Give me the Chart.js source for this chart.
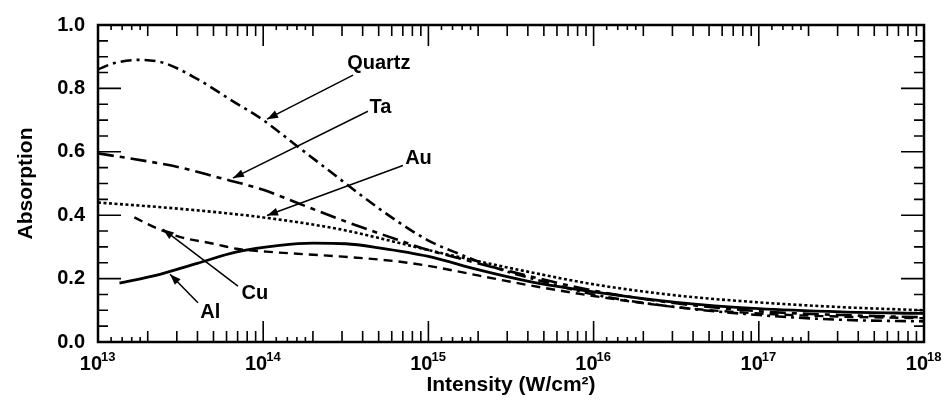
<!DOCTYPE html>
<html>
<head>
<meta charset="utf-8">
<script src="https://cdn.jsdelivr.net/npm/chart.js@4.4.1/dist/chart.umd.min.js"></script>
<style>
  html, body { margin: 0; padding: 0; background: #fff; }
  #wrap { width: 948px; height: 410px; }
</style>
</head>
<body>
<div id="wrap"><canvas id="chart" width="948" height="410"></canvas></div>
<script>
// log10 of intensity (W/cm2) and absorption
var quartzLogI = [13.0, 13.1, 13.25, 13.4, 13.6, 13.8, 14.0, 14.2, 14.4, 14.6, 14.8, 15.0, 15.2, 15.4, 15.7, 16.0, 16.5, 17.0, 17.5, 18.0];
var quartzAbs  = [0.86, 0.88, 0.89, 0.88, 0.83, 0.765, 0.70, 0.62, 0.54, 0.46, 0.385, 0.32, 0.275, 0.235, 0.19, 0.15, 0.11, 0.085, 0.07, 0.065];

var taLogI = [13.0, 13.3, 13.5, 13.72, 14.0, 14.2, 14.5, 14.8, 15.0, 15.2, 15.5, 16.0, 16.5, 17.0, 17.5, 18.0];
var taAbs  = [0.595, 0.57, 0.55, 0.52, 0.48, 0.44, 0.38, 0.325, 0.29, 0.262, 0.222, 0.162, 0.122, 0.097, 0.085, 0.078];

var auLogI = [13.0, 13.5, 14.0, 14.46, 14.7, 15.0, 15.3, 15.6, 16.0, 16.5, 17.0, 17.5, 18.0];
var auAbs  = [0.44, 0.42, 0.393, 0.356, 0.328, 0.29, 0.255, 0.222, 0.182, 0.147, 0.125, 0.11, 0.10];

var cuLogI = [13.22, 13.35, 13.5, 13.7, 13.84, 14.02, 14.46, 14.8, 15.0, 15.3, 15.6, 16.0, 16.5, 17.0, 17.5, 18.0];
var cuAbs  = [0.393, 0.36, 0.331, 0.31, 0.294, 0.285, 0.27, 0.255, 0.24, 0.21, 0.18, 0.145, 0.11, 0.09, 0.08, 0.075];

var alLogI = [13.13, 13.35, 13.6, 13.84, 14.1, 14.3, 14.5, 14.7, 15.0, 15.3, 15.6, 16.0, 16.5, 17.0, 17.5, 18.0];
var alAbs  = [0.186, 0.21, 0.248, 0.284, 0.305, 0.312, 0.31, 0.297, 0.27, 0.228, 0.192, 0.158, 0.125, 0.105, 0.095, 0.09];

var xDecades = [13, 14, 15, 16, 17, 18];
var yTicks = [0, 0.2, 0.4, 0.6, 0.8, 1.0];

// annotations: label position, arrow tail and arrow head as [log10 I, absorption]
var noteNames = ['Quartz', 'Ta', 'Au', 'Cu', 'Al'];
var noteLabelPos = [[14.70, 0.879], [14.71, 0.740], [14.94, 0.579], [13.95, 0.152], [13.68, 0.093]];
var noteArrowTail = [[14.544, 0.842], [14.634, 0.728], [14.846, 0.557], [13.847, 0.176], [13.605, 0.124]];
var noteArrowHead = [[14.023, 0.703], [13.817, 0.517], [14.023, 0.399], [13.393, 0.356], [13.436, 0.214]];

var toPoints = function (logs, vals) {
  return logs.map(function (l, i) { return { x: Math.pow(10, l), y: vals[i] }; });
};

var makeSet = function (label, logs, vals, dash, width) {
  return {
    label: label,
    data: toPoints(logs, vals),
    borderColor: '#000',
    borderWidth: width,
    borderDash: dash,
    pointRadius: 0,
    fill: false,
    cubicInterpolationMode: 'monotone'
  };
};

var boldFont = '"Liberation Sans", Arial, Helvetica, sans-serif';

var framePlugin = {
  id: 'frame',
  afterDraw: function (chart) {
    var ctx = chart.ctx;
    var a = chart.chartArea;
    var xs = chart.scales.x;
    var ys = chart.scales.y;
    ctx.save();
    ctx.strokeStyle = '#000';
    ctx.fillStyle = '#000';

    // inner ticks, x
    ctx.lineWidth = 1.6;
    var tick = function (px, len) {
      ctx.beginPath();
      ctx.moveTo(px, a.bottom); ctx.lineTo(px, a.bottom - len);
      ctx.moveTo(px, a.top); ctx.lineTo(px, a.top + len);
      ctx.stroke();
    };
    xDecades.forEach(function (e) {
      tick(xs.getPixelForValue(Math.pow(10, e)), 21);
      if (e < 18) {
        [1.2, 1.4, 1.6, 1.8].forEach(function (m) { tick(xs.getPixelForValue(m * Math.pow(10, e)), 5); });
        for (var m = 2; m <= 9; m++) tick(xs.getPixelForValue(m * Math.pow(10, e)), 11);
      }
    });

    // inner ticks, y
    for (var k = 0; k <= 20; k++) {
      var py = ys.getPixelForValue(k * 0.05);
      var len = (k % 4 === 0) ? 23 : 10;
      ctx.beginPath();
      ctx.moveTo(a.left, py); ctx.lineTo(a.left + len, py);
      ctx.moveTo(a.right, py); ctx.lineTo(a.right - len, py);
      ctx.stroke();
    }

    // frame
    ctx.lineWidth = 2.5;
    ctx.strokeRect(a.left, a.top, a.right - a.left, a.bottom - a.top);

    // x tick labels 10^n
    ctx.textBaseline = 'alphabetic';
    xDecades.forEach(function (e) {
      var px = xs.getPixelForValue(Math.pow(10, e));
      ctx.font = 'bold 20px ' + boldFont;
      ctx.textAlign = 'right';
      ctx.fillText('10', px + 4, 370);
      ctx.font = 'bold 13px ' + boldFont;
      ctx.textAlign = 'left';
      ctx.fillText(String(e), px + 3, 361);
    });

    // annotations
    ctx.lineWidth = 1.5;
    noteNames.forEach(function (name, i) {
      var tx = xs.getPixelForValue(Math.pow(10, noteArrowTail[i][0]));
      var ty = ys.getPixelForValue(noteArrowTail[i][1]);
      var hx = xs.getPixelForValue(Math.pow(10, noteArrowHead[i][0]));
      var hy = ys.getPixelForValue(noteArrowHead[i][1]);
      ctx.beginPath();
      ctx.moveTo(tx, ty); ctx.lineTo(hx, hy);
      ctx.stroke();
      var ang = Math.atan2(hy - ty, hx - tx);
      ctx.beginPath();
      ctx.moveTo(hx, hy);
      ctx.lineTo(hx - 11 * Math.cos(ang) + 4 * Math.sin(ang), hy - 11 * Math.sin(ang) - 4 * Math.cos(ang));
      ctx.lineTo(hx - 11 * Math.cos(ang) - 4 * Math.sin(ang), hy - 11 * Math.sin(ang) + 4 * Math.cos(ang));
      ctx.closePath();
      ctx.fill();

      ctx.font = 'bold 20px ' + boldFont;
      ctx.textAlign = 'center';
      ctx.textBaseline = 'middle';
      ctx.fillText(name,
        xs.getPixelForValue(Math.pow(10, noteLabelPos[i][0])),
        ys.getPixelForValue(noteLabelPos[i][1]));
    });
    ctx.restore();
  }
};

var config = {
  type: 'line',
  data: {
    datasets: [
      makeSet('Quartz', quartzLogI, quartzAbs, [11, 5, 3, 5], 2.6),
      makeSet('Ta', taLogI, taAbs, [16, 6, 5, 6], 2.6),
      makeSet('Au', auLogI, auAbs, [3, 2.5], 2.6),
      makeSet('Cu', cuLogI, cuAbs, [9, 6], 2.4),
      makeSet('Al', alLogI, alAbs, [], 2.8)
    ]
  },
  options: {
    responsive: false,
    animation: false,
    devicePixelRatio: 1,
    layout: { padding: { top: 19, right: 24, left: 0, bottom: 0 } },
    plugins: { legend: { display: false }, tooltip: { enabled: false } },
    scales: {
      x: {
        type: 'logarithmic',
        min: 1e13,
        max: 1e18,
        grid: { display: false },
        border: { display: false },
        ticks: { display: false },
        title: {
          display: true,
          text: 'Intensity (W/cm²)',
          color: '#000',
          font: { family: boldFont, size: 21, weight: 'bold' },
          padding: { top: 0, bottom: 12 }
        },
        afterFit: function (s) { s.height = 68; }
      },
      y: {
        min: 0,
        max: 1,
        grid: { display: false, drawTicks: false },
        border: { display: false },
        afterBuildTicks: function (s) { s.ticks = yTicks.map(function (v) { return { value: v }; }); },
        ticks: {
          color: '#000',
          padding: 13,
          font: { family: boldFont, size: 20, weight: 'bold' },
          callback: function (v) { return Number(v).toFixed(1); }
        },
        title: {
          display: true,
          text: 'Absorption',
          color: '#000',
          font: { family: boldFont, size: 21, weight: 'bold' },
          padding: { top: 14, bottom: 0 }
        },
        afterFit: function (s) { s.width = 98; }
      }
    }
  },
  plugins: [framePlugin]
};

var chart = new Chart(document.getElementById('chart').getContext('2d'), config);
</script>
</body>
</html>
